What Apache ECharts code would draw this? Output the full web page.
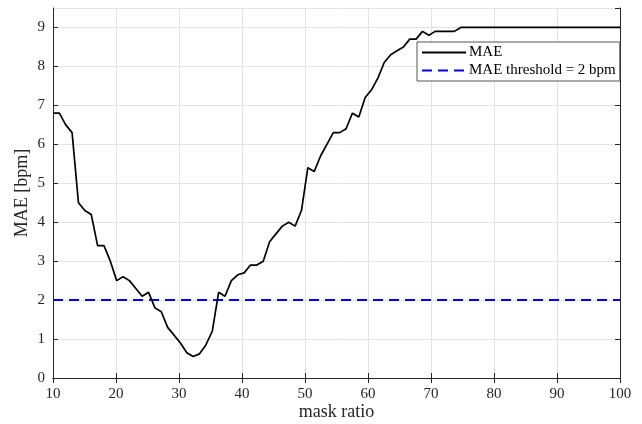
<!DOCTYPE html>
<html>
<head>
<meta charset="utf-8">
<script src="https://cdn.jsdelivr.net/npm/echarts@6/dist/echarts.min.js"></script>
<style>
html,body{margin:0;padding:0;background:#fff;}
#c{width:642px;height:424px;}
</style>
</head>
<body>
<div id="c"></div>
<script>
// mask ratio sample positions (90 samples from 10 to 100)
const maskRatio = [10.00,11.01,12.02,13.03,14.04,15.06,16.07,17.08,18.09,19.10,
  20.11,21.12,22.13,23.15,24.16,25.17,26.18,27.19,28.20,29.21,
  30.22,31.24,32.25,33.26,34.27,35.28,36.29,37.30,38.31,39.33,
  40.34,41.35,42.36,43.37,44.38,45.39,46.40,47.42,48.43,49.44,
  50.45,51.46,52.47,53.48,54.49,55.51,56.52,57.53,58.54,59.55,
  60.56,61.57,62.58,63.60,64.61,65.62,66.63,67.64,68.65,69.66,
  70.67,71.69,72.70,73.71,74.72,75.73,76.74,77.75,78.76,79.78,
  80.79,81.80,82.81,83.82,84.83,85.84,86.85,87.87,88.88,89.89,
  90.90,91.91,92.92,93.93,94.94,95.96,96.97,97.98,98.99,100.00];
const maeValues = [6.8,6.8,6.5,6.3,4.5,4.3,4.2,3.4,3.4,3.0,
  2.5,2.6,2.5,2.3,2.1,2.2,1.8,1.7,1.3,1.1,
  0.9,0.65,0.55,0.62,0.85,1.2,2.2,2.1,2.5,2.65,
  2.7,2.9,2.9,3.0,3.5,3.7,3.9,4.0,3.9,4.3,
  5.4,5.3,5.7,6.0,6.3,6.3,6.4,6.8,6.7,7.2,
  7.4,7.7,8.1,8.3,8.4,8.5,8.7,8.7,8.9,8.8,
  8.9,8.9,8.9,8.9,9.0,9.0,9.0,9.0,9.0,9.0,
  9.0,9.0,9.0,9.0,9.0,9.0,9.0,9.0,9.0,9.0,
  9.0,9.0,9.0,9.0,9.0,9.0,9.0,9.0,9.0,9.0];
const thresholdX = [10, 100];
const thresholdY = [2, 2];
const xTicks = [10,20,30,40,50,60,70,80,90,100];
const yTicks = [0,1,2,3,4,5,6,7,8,9];
const seriesNames = ['MAE', 'MAE threshold = 2 bpm'];

const FONT = 'Liberation Serif';
const AX = '#262626';
const chart = echarts.init(document.getElementById('c'), null, {renderer:'canvas'});
const maeData = maskRatio.map((x,i)=>[x, maeValues[i]]);
const thrData = thresholdX.map((x,i)=>[x, thresholdY[i]]);

const commonX = {
  type:'value', min:10, max:100, interval:10,
  axisLine:{show:true, lineStyle:{color:AX, width:1}},
  axisTick:{show:true, inside:true, length:5, lineStyle:{color:AX}},
  splitLine:{show:false}
};
const commonY = {
  type:'value', min:0, max:9.5, interval:1,
  axisLine:{show:true, lineStyle:{color:AX, width:1}},
  axisTick:{show:true, inside:true, length:5, lineStyle:{color:AX}},
  splitLine:{show:false}
};

chart.setOption({
  animation:false,
  backgroundColor:'#fff',
  grid:{left:53, right:22, top:8, bottom:46, containLabel:false, outerBoundsMode:'none'},
  xAxis:[
    Object.assign({}, commonX, {
      position:'bottom',
      name:'mask ratio', nameLocation:'middle', nameGap:25, nameMoveOverlap:false,
      nameTextStyle:{fontFamily:FONT, fontSize:18, color:AX},
      axisLabel:{fontFamily:FONT, fontSize:15, color:AX, margin:9,
        formatter:v=> xTicks.includes(v) ? String(v) : ''},
      splitLine:{show:true, lineStyle:{color:'#e3e3e3', width:1}}
    }),
    Object.assign({}, commonX, {position:'top', axisLabel:{show:false}})
  ],
  yAxis:[
    Object.assign({}, commonY, {
      position:'left',
      name:'MAE [bpm]', nameLocation:'middle', nameGap:22, nameMoveOverlap:false,
      nameTextStyle:{fontFamily:FONT, fontSize:18, color:AX},
      axisLabel:{fontFamily:FONT, fontSize:15, color:AX, margin:8, showMaxLabel:false,
        formatter:v=> yTicks.includes(v) ? String(v) : ''},
      splitLine:{show:true, lineStyle:{color:'#e3e3e3', width:1}}
    }),
    Object.assign({}, commonY, {position:'right', axisLabel:{show:false}})
  ],
  legend:{
    orient:'vertical', left:417, top:42,
    backgroundColor:'#fff', borderColor:'#555', borderWidth:1,
    padding:[3,4,3,4], itemGap:3, itemWidth:44, itemHeight:14,
    itemStyle:{opacity:0},
    textStyle:{fontFamily:FONT, fontSize:15, color:'#000', padding:[0,0,0,-2]},
    data:seriesNames
  },
  series:[
    {name:seriesNames[0], type:'line', data:maeData, symbol:'none',
     lineStyle:{color:'#000', width:1.7}, itemStyle:{color:'#000'}, z:3},
    {name:seriesNames[1], type:'line', data:thrData, symbol:'none',
     lineStyle:{color:'#0000ff', width:2, type:[10,6]}, itemStyle:{color:'#0000ff'}, z:2}
  ]
});
</script>
</body>
</html>
